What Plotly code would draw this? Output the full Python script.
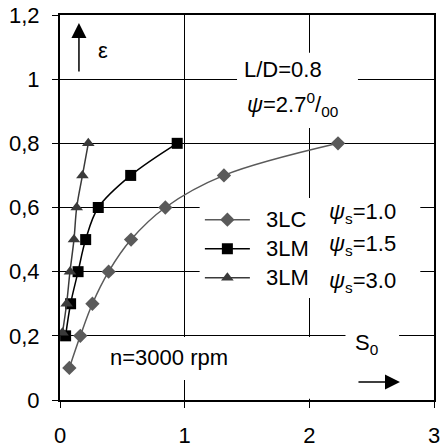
import plotly.graph_objects as go

# ---- data ----
x_3lc = [0.075, 0.163, 0.26, 0.39, 0.57, 0.845, 1.315, 2.23]
y_3lc = [0.1, 0.2, 0.3, 0.4, 0.5, 0.6, 0.7, 0.8]
x_3lm_15 = [0.045, 0.085, 0.145, 0.206, 0.307, 0.567, 0.94]
y_3lm_15 = [0.2, 0.3, 0.4, 0.5, 0.6, 0.7, 0.8]
x_3lm_30 = [0.02, 0.053, 0.08, 0.112, 0.134, 0.18, 0.227]
y_3lm_30 = [0.21, 0.3, 0.4, 0.5, 0.6, 0.7, 0.8]

x_ticks = [0, 1, 2, 3]
x_ticktext = ["0", "1", "2", "3"]
y_ticks = [0, 0.2, 0.4, 0.6, 0.8, 1.0, 1.2]
y_ticktext = ["0", "0,2", "0,4", "0,6", "0,8", "1", "1,2"]

series_names = ["3LC", "3LM", "3LM"]
psi_s_labels = ["<i>ψ</i><sub>s</sub>=1.0", "<i>ψ</i><sub>s</sub>=1.5", "<i>ψ</i><sub>s</sub>=3.0"]

FONT = "Liberation Sans, Arial, sans-serif"
FS = 22

def legend_name(s):
    return "\u00a0\u00a0" + '<span style="font-size:22px">' + s + "</span>"

fig = go.Figure()
fig.add_trace(go.Scatter(x=x_3lc, y=y_3lc, name=legend_name(series_names[0]), mode="lines+markers",
                         line=dict(color="#5a5a5a", width=1.5, shape="spline"),
                         marker=dict(symbol="diamond", size=11, color="#5a5a5a")))
fig.add_trace(go.Scatter(x=x_3lm_15, y=y_3lm_15, name=legend_name(series_names[1]), mode="lines+markers",
                         line=dict(color="#000000", width=1.5, shape="spline"),
                         marker=dict(symbol="square", size=11, color="#000000")))
fig.add_trace(go.Scatter(x=x_3lm_30, y=y_3lm_30, name=legend_name(series_names[2]), mode="lines+markers",
                         line=dict(color="#3a3a3a", width=1.5, shape="spline"),
                         marker=dict(symbol="triangle-up", size=11, color="#3a3a3a")))

# white boxes hiding gridlines behind the texts (between gridlines and traces)
boxes = [
    (1.42, 0.848, 2.39, 1.082),   # L/D box
    (1.12, 0.318, 2.89, 0.63),    # legend box
    (0.28, 0.062, 1.48, 0.196),   # n=3000 rpm
    (1.90, 0.004, 2.10, 0.196),
    (2.29, 0.004, 2.72, 0.215),   # S0 and arrow
]
shapes = [dict(type="rect", xref="x", yref="y", x0=a, y0=b, x1=c, y1=d,
               fillcolor="white", line=dict(width=0), layer="between") for a, b, c, d in boxes]

annos = [
    dict(x=0.152, y=1.175, ax=0, ay=50, text="", showarrow=True, arrowhead=2,
         arrowsize=2, arrowwidth=1.5, arrowcolor="black", standoff=0, xref="x", yref="y"),
    dict(x=2.727, y=0.056, ax=-43, ay=0, text="", showarrow=True, arrowhead=2,
         arrowsize=2, arrowwidth=1.5, arrowcolor="black", standoff=0, xref="x", yref="y"),
    dict(x=0.341, y=1.089, text="ε", showarrow=False, xref="x", yref="y"),
    dict(x=1.792, y=1.029, text="L/D=0.8", showarrow=False, xref="x", yref="y"),
    dict(x=1.865, y=0.92, text="<i>ψ</i>=2.7<sup>0</sup>/<sub>00</sub>", showarrow=False, xref="x", yref="y"),
    dict(x=0.874, y=0.131, text="n=3000 rpm", showarrow=False, xref="x", yref="y"),
    dict(x=2.35, y=0.176, text="S<sub>0</sub>", showarrow=False, xref="x", yref="y",
         xanchor="left"),
]
for lab, yy in zip(psi_s_labels, [0.583, 0.483, 0.368]):
    annos.append(dict(x=2.141, y=yy, text=lab, showarrow=False, xref="x", yref="y", xanchor="left"))

fig.update_layout(
    width=441, height=447,
    margin=dict(l=60, r=7, t=15, b=47, autoexpand=False),
    plot_bgcolor="white", paper_bgcolor="white",
    font=dict(family=FONT, size=FS, color="black"),
    showlegend=True,
    legend=dict(x=0.374, y=0.519, xanchor="left", yanchor="top", bgcolor="rgba(0,0,0,0)",
                font=dict(family=FONT, size=20, color="black"), itemwidth=45,
                tracegroupgap=0),
    shapes=shapes,
    annotations=annos,
)
fig.update_xaxes(range=[0, 3], tickvals=x_ticks, ticktext=x_ticktext, automargin=False,
                 showgrid=True, gridcolor="black", gridwidth=1, zeroline=False,
                 showline=True, linecolor="black", linewidth=2, mirror=True,
                 ticks="outside", ticklen=6, tickcolor="black", tickwidth=1,
                 ticklabelstandoff=9, tickfont=dict(family=FONT, size=FS, color="black"))
fig.update_yaxes(range=[0, 1.2], tickvals=y_ticks, ticktext=y_ticktext, automargin=False,
                 showgrid=True, gridcolor="black", gridwidth=1, zeroline=False,
                 showline=True, linecolor="black", linewidth=2, mirror=True,
                 ticks="outside", ticklen=6, tickcolor="black", tickwidth=1,
                 ticklabelstandoff=8, tickfont=dict(family=FONT, size=FS, color="black"))

fig.write_html("out.html", config={"displayModeBar": False},
               post_script="document.body.style.margin='0';document.body.style.overflow='hidden';")
